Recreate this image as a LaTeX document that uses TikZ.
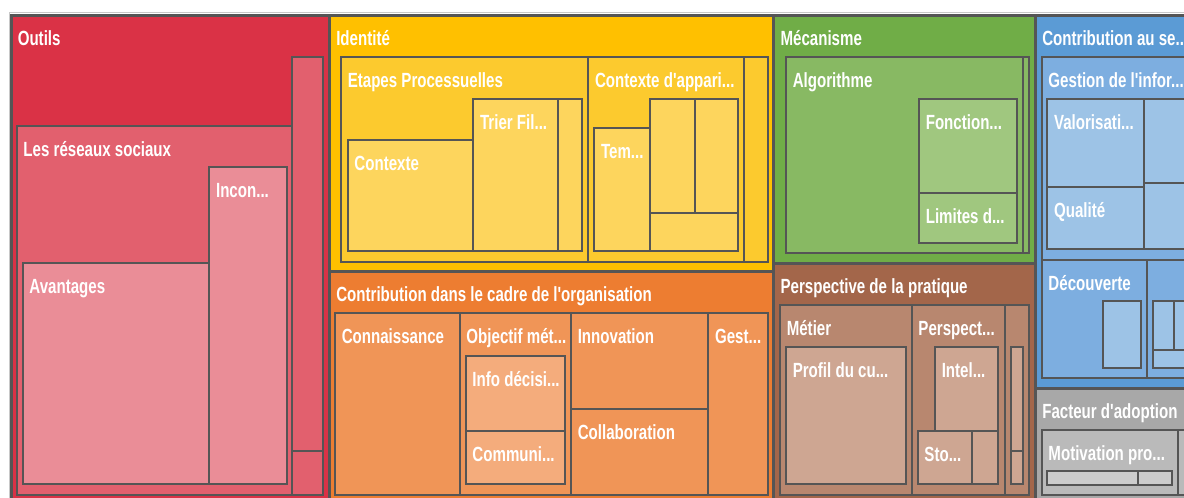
\documentclass[tikz,border=0pt]{standalone}
\usepackage{fontspec}
\newfontfamily\lblfont{Liberation Sans}[FakeStretch=0.735]
\definecolor{bord}{HTML}{555555}
\definecolor{rA}{HTML}{DA3246}\definecolor{rB}{HTML}{E2606E}\definecolor{rC}{HTML}{EA8D97}
\definecolor{yA}{HTML}{FFC000}\definecolor{yB}{HTML}{FCCA2E}\definecolor{yC}{HTML}{FDD55D}
\definecolor{oA}{HTML}{ED7D31}\definecolor{oB}{HTML}{F09557}\definecolor{oC}{HTML}{F4AC7C}
\definecolor{gA}{HTML}{70AD47}\definecolor{gB}{HTML}{88B963}\definecolor{gC}{HTML}{A0C77F}
\definecolor{bA}{HTML}{A3664A}\definecolor{bB}{HTML}{B8876F}\definecolor{bC}{HTML}{CEA692}
\definecolor{lA}{HTML}{5B9BD5}\definecolor{lB}{HTML}{7DAEE0}\definecolor{lC}{HTML}{9DC3E6}
\definecolor{kA}{HTML}{A8A8A8}\definecolor{kB}{HTML}{BABABA}\definecolor{kC}{HTML}{CCCCCC}
\tikzset{
  top/.style={draw=bord,line width=2.25pt},
  inner/.style={draw=bord,line width=1.5pt},
  lbl/.style={anchor=base west,inner sep=0pt,text=white,font=\lblfont\bfseries\fontsize{15.4}{17}\selectfont},
}
% #1 style, #2 name, #3 x1, #4 y1, #5 x2, #6 y2, #7 label
\newcommand\tmbox[7]{%
  \path[#1] (#3,#4) rectangle (#5,#6);
  \node[lbl] (#2) at ({#3+6.5},{#4+30.5}) {#7};}
\newcommand\tmcell[6]{%
  \path[#1] (#3,#4) rectangle (#5,#6);
  \coordinate (#2) at ({(#3+#5)/2},{(#4+#6)/2});}
\begin{document}
\begin{tikzpicture}[x=0.75pt,y=-0.75pt]
\useasboundingbox (0,0) rectangle (1184,498);
\fill[white] (0,0) rectangle (1184,498);
\begin{scope}
\clip (0,0) rectangle (1184,498);
\draw[draw={rgb,255:red,200;green,200;blue,200},line width=0.75pt] (9,505) -- (9,13) -- (1190,13);
% ---------- Outils
\tmbox{top,fill=rA}{outils}{11}{15.5}{329.5}{505}{Outils}
\tmbox{inner,fill=rB}{reseaux}{16.7}{125.7}{292}{495}{Les réseaux sociaux}
\tmcell{inner,fill=rB}{o2}{292}{56.7}{323}{451}
\tmcell{inner,fill=rB}{o3}{292}{451}{323}{495}
\tmbox{inner,fill=rC}{avant}{22.7}{263.3}{209.3}{484.3}{Avantages}
\tmbox{inner,fill=rC}{incon}{209.3}{167}{286.7}{484.3}{Incon...}
% ---------- Identité
\tmbox{top,fill=yA}{identite}{329.5}{15.5}{773.8}{271.3}{Identité}
\tmbox{inner,fill=yB}{etapes}{341}{56.7}{588.3}{261.7}{Etapes Processuelles}
\tmbox{inner,fill=yB}{contapp}{588.3}{56.7}{744.3}{261.7}{Contexte d'appari...}
\tmcell{inner,fill=yB}{i3}{744.3}{56.7}{768.3}{261.7}
\tmbox{inner,fill=yC}{contexte}{347.7}{140}{473.3}{251}{Contexte}
\tmbox{inner,fill=yC}{trier}{473.3}{98.7}{558.3}{251}{Trier Fil...}
\tmcell{inner,fill=yC}{i4}{558.3}{98.7}{582.3}{251}
\tmbox{inner,fill=yC}{tem}{594.3}{127.7}{650}{251}{Tem...}
\tmcell{inner,fill=yC}{i5}{650}{98.7}{695}{213.3}
\tmcell{inner,fill=yC}{i6}{695}{98.7}{738.3}{213.3}
\tmcell{inner,fill=yC}{i7}{650}{213.3}{738.3}{251}
% ---------- Contribution dans le cadre
\tmbox{top,fill=oA}{contorg}{329.5}{271.3}{773.8}{505}{Contribution dans le cadre de l'organisation}
\tmbox{inner,fill=oB}{connais}{335}{313.3}{459.7}{495}{Connaissance}
\tmbox{inner,fill=oB}{objectif}{459.7}{313.3}{571}{495}{Objectif mét...}
\tmbox{inner,fill=oB}{innov}{571}{313.3}{708.3}{409.3}{Innovation}
\tmbox{inner,fill=oB}{collab}{571}{409.3}{708.3}{495}{Collaboration}
\tmbox{inner,fill=oB}{gest}{708.3}{313.3}{768.3}{495}{Gest...}
\tmbox{inner,fill=oC}{info}{465.7}{355.7}{565}{430.7}{Info décisi...}
\tmbox{inner,fill=oC}{communi}{465.7}{430.7}{565}{484}{Communi...}
% ---------- Mécanisme
\tmbox{top,fill=gA}{meca}{773.8}{15.5}{1035.5}{263.5}{Mécanisme}
\tmbox{inner,fill=gB}{algo}{786}{56.7}{1023.3}{253.3}{Algorithme}
\tmcell{inner,fill=gB}{m2}{1023.3}{56.7}{1029.3}{253.3}
\tmbox{inner,fill=gC}{fonction}{919}{98.7}{1017}{192.7}{Fonction...}
\tmbox{inner,fill=gC}{limites}{919}{192.7}{1017}{243}{Limites d...}
% ---------- Perspective
\tmbox{top,fill=bA}{persp}{773.8}{263.5}{1035.5}{505}{Perspective de la pratique}
\tmbox{inner,fill=bB}{metier}{780}{305}{911.7}{495}{Métier}
\tmbox{inner,fill=bB}{perspect}{911.7}{305}{1005}{495}{Perspect...}
\tmcell{inner,fill=bB}{p3}{1005}{305}{1029.3}{495}
\tmbox{inner,fill=bC}{profil}{786}{346.7}{905.7}{484}{Profil du cu...}
\tmbox{inner,fill=bC}{intel}{935}{346.7}{998.3}{430.7}{Intel...}
\tmbox{inner,fill=bC}{sto}{917.7}{430.7}{972.3}{484}{Sto...}
\tmcell{inner,fill=bC}{p4}{972.3}{430.7}{998.3}{484}
\tmcell{inner,fill=bC}{p5}{1010.7}{346.7}{1023.3}{451}
\tmcell{inner,fill=bC}{p6}{1010.7}{451}{1023.3}{484}
% ---------- Contribution au se...
\tmbox{top,fill=lA}{contse}{1035.5}{15.5}{1195}{388.4}{Contribution au se...}
\tmbox{inner,fill=lB}{gestion}{1041.7}{57.3}{1195}{260}{Gestion de l'infor...}
\tmbox{inner,fill=lB}{decouv}{1041.7}{260}{1147.3}{377.7}{Découverte}
\tmcell{inner,fill=lB}{c2}{1147.3}{260}{1195}{377.7}
\tmbox{inner,fill=lC}{valor}{1047.3}{99}{1144.3}{186.7}{Valorisati...}
\tmbox{inner,fill=lC}{qualite}{1047.3}{186.7}{1144.3}{249}{Qualité}
\tmcell{inner,fill=lC}{c3}{1144.3}{99}{1195}{183.3}
\tmcell{inner,fill=lC}{c4}{1144.3}{183.3}{1195}{249}
\tmcell{inner,fill=lC}{c5}{1103.3}{300.7}{1141}{368.3}
\tmcell{inner,fill=lC}{c6}{1153.3}{300.7}{1174.3}{350}
\tmcell{inner,fill=lC}{c7}{1174.3}{300.7}{1195}{350}
\tmcell{inner,fill=lC}{c8}{1153.3}{350}{1195}{368.3}
% ---------- Facteur d'adoption
\tmbox{top,fill=kA}{facteur}{1035.5}{388.4}{1195}{505}{Facteur d'adoption}
\tmbox{inner,fill=kB}{motiv}{1041.7}{430}{1177.7}{495}{Motivation pro...}
\tmcell{inner,fill=kB}{f2}{1177.7}{430}{1195}{495}
\tmcell{inner,fill=kC}{f3}{1047.3}{471}{1138.3}{485}
\tmcell{inner,fill=kC}{f4}{1138.3}{471}{1172.3}{485}
\end{scope}
\end{tikzpicture}
\end{document}
